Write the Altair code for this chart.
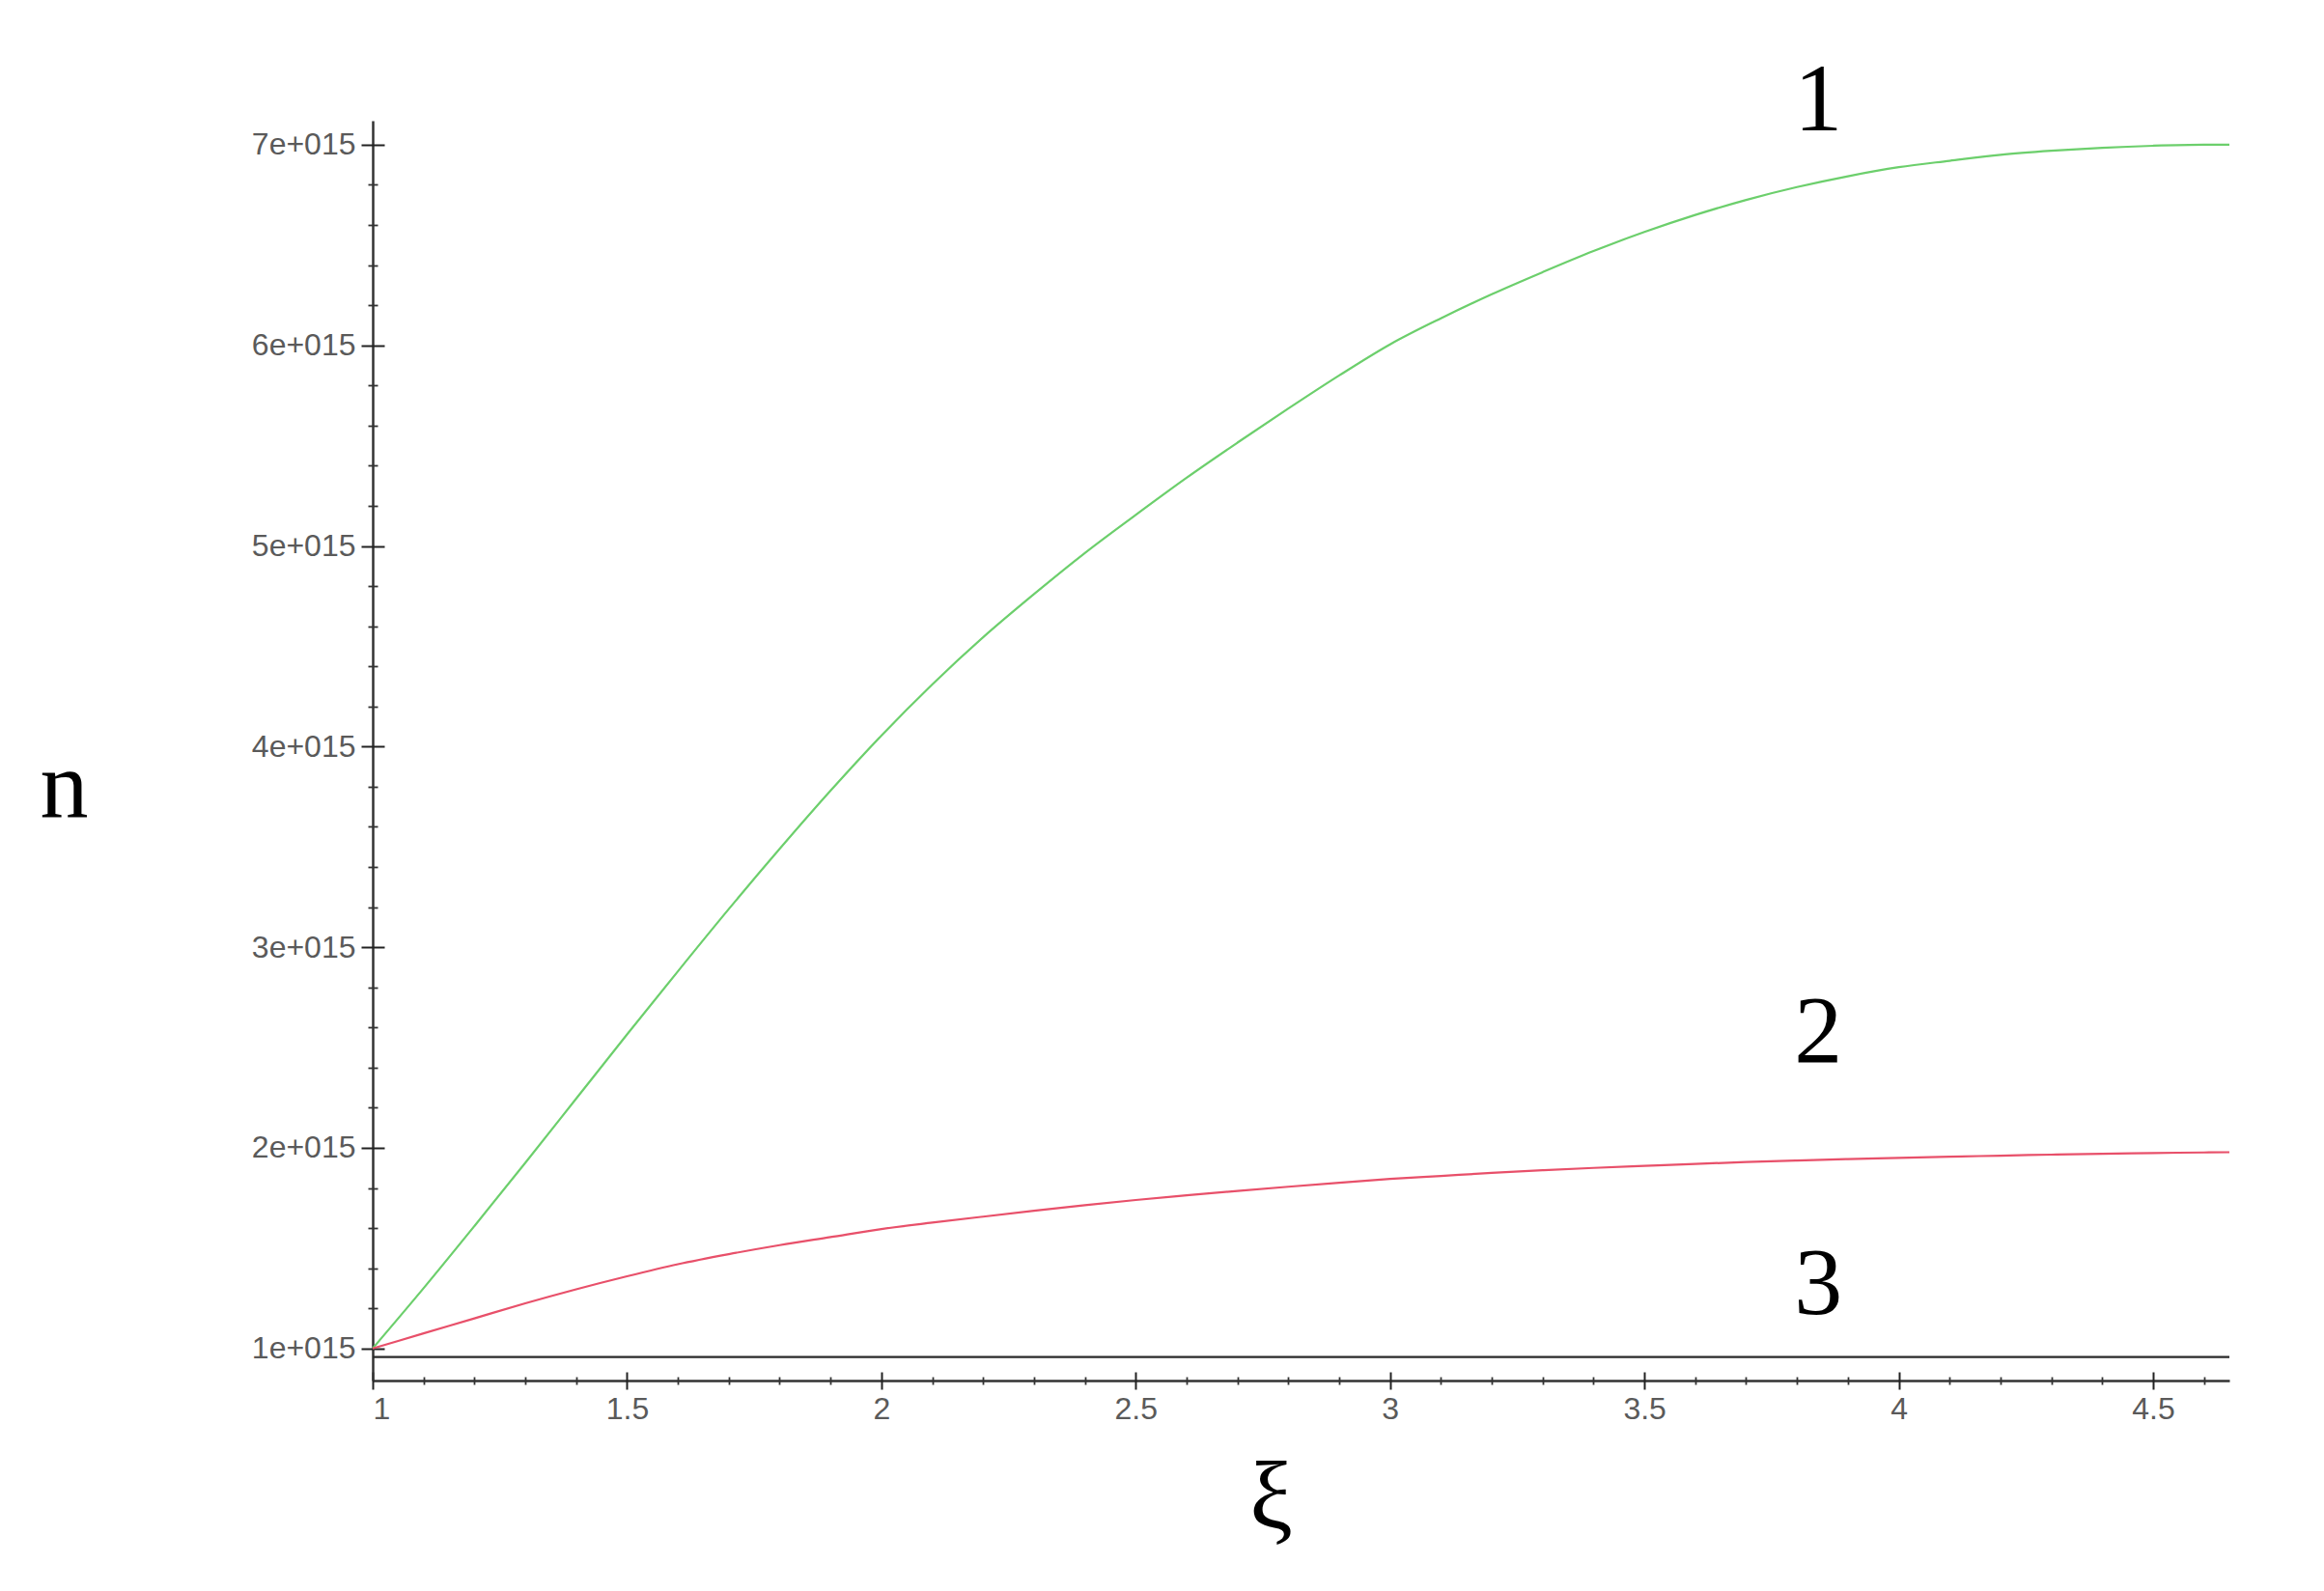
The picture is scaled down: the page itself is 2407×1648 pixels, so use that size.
import altair as alt
import pandas as pd

# ---- data (n in units of 1e15) ----
xi = [1.0, 1.1, 1.2, 1.3, 1.4, 1.5, 1.6, 1.7, 1.8, 1.9, 2.0, 2.1, 2.2, 2.3, 2.4,
      2.5, 2.6, 2.7, 2.8, 2.9, 3.0, 3.1, 3.2, 3.3, 3.4, 3.5, 3.6, 3.7, 3.8, 3.9,
      4.0, 4.1, 4.2, 4.3, 4.4, 4.5, 4.6, 4.65]
n_curve1 = [1.00, 1.30, 1.61, 1.925, 2.245, 2.565, 2.88, 3.19, 3.49, 3.78, 4.055,
            4.31, 4.545, 4.76, 4.965, 5.155, 5.34, 5.515, 5.685, 5.85, 6.005,
            6.135, 6.255, 6.365, 6.47, 6.565, 6.65, 6.725, 6.789, 6.843, 6.888,
            6.92, 6.95, 6.97, 6.985, 6.995, 7.00, 7.00]
n_curve2 = [1.00, 1.075, 1.15, 1.225, 1.295, 1.36, 1.42, 1.47, 1.515, 1.555, 1.595,
            1.627, 1.657, 1.686, 1.714, 1.74, 1.763, 1.785, 1.806, 1.826, 1.845,
            1.86, 1.875, 1.888, 1.90, 1.91, 1.92, 1.929, 1.937, 1.944, 1.95,
            1.956, 1.961, 1.966, 1.97, 1.974, 1.977, 1.978]
n_curve3 = [0.957] * len(xi)

series_names = ["1", "2", "3"]
series_colors = ["#6ccf6c", "#e8506a", "#2a2a2a"]
series_widths = [2.2, 2.2, 2.6]

x_ticks = [1, 1.5, 2, 2.5, 3, 3.5, 4, 4.5]
x_minor = [1.1, 1.2, 1.3, 1.4, 1.6, 1.7, 1.8, 1.9, 2.1, 2.2, 2.3, 2.4, 2.6, 2.7,
           2.8, 2.9, 3.1, 3.2, 3.3, 3.4, 3.6, 3.7, 3.8, 3.9, 4.1, 4.2, 4.3, 4.4, 4.6]
y_ticks = [1, 2, 3, 4, 5, 6, 7]
y_minor = [1.2, 1.4, 1.6, 1.8, 2.2, 2.4, 2.6, 2.8, 3.2, 3.4, 3.6, 3.8, 4.2, 4.4,
           4.6, 4.8, 5.2, 5.4, 5.6, 5.8, 6.2, 6.4, 6.6, 6.8]

label_text = ["1", "2", "3"]
label_x = [3.842, 3.842, 3.842]
label_y = [7.072, 2.429, 1.173]

E = 1e15

rows = []
for name, vals in zip(series_names, [n_curve1, n_curve2, n_curve3]):
    for x, v in zip(xi, vals):
        rows.append({"xi": x, "n": v * E, "series": name})
df = pd.DataFrame(rows)
lab_df = pd.DataFrame({"lx": label_x, "ly": [v * E for v in label_y], "t": label_text})

xs = alt.Scale(domain=[1, 4.65], nice=False, zero=False)
ys = alt.Scale(domain=[0.84 * E, 7.12 * E], nice=False, zero=False)

label_font = "Liberation Sans"
serif = "Liberation Serif"

axisA_x = alt.Axis(orient="bottom", values=x_ticks, format=".1~f", domain=True,
                   domainColor="#333333", domainWidth=2.5, ticks=False, tickSize=0,
                   grid=False, labelFont=label_font, labelFontSize=32,
                   labelColor="#5a5a5a", labelPadding=14,
                   title="ξ", titleFont=serif, titleFontSize=100, titleFontWeight="normal",
                   titleColor="black", titleX=930, titleY=121, titleAlign="center",
                   titleBaseline="middle")
axisA_y = alt.Axis(orient="left", values=[v * E for v in y_ticks], domain=True,
                   domainColor="#333333", domainWidth=2.5, ticks=False, tickSize=0,
                   grid=False, labelFont=label_font, labelFontSize=32,
                   labelColor="#5a5a5a", labelPadding=18,
                   labelExpr="replace(format(datum.value, '.0e'), 'e+', 'e+0')",
                   title="n", titleFont=serif, titleFontSize=100, titleFontWeight="normal",
                   titleColor="black", titleAngle=0, titleX=-320, titleY=720,
                   titleAlign="center", titleBaseline="alphabetic")

axisB_x = alt.Axis(orient="bottom", values=x_ticks, offset=-9, tickSize=18, tickWidth=2,
                   tickColor="#222222", domain=False, labels=False, grid=False, title=None)
axisB_y = alt.Axis(orient="left", values=[v * E for v in y_ticks], offset=-12, tickSize=24,
                   tickWidth=2, tickColor="#222222", domain=False, labels=False,
                   grid=False, title=None)
axisC_x = alt.Axis(orient="bottom", values=x_minor, offset=-4, tickSize=8, tickWidth=1.8,
                   tickColor="#333333", domain=False, labels=False, grid=False, title=None)
axisC_y = alt.Axis(orient="left", values=[v * E for v in y_minor], offset=-5, tickSize=10,
                   tickWidth=1.8, tickColor="#333333", domain=False, labels=False,
                   grid=False, title=None)

lines = alt.Chart(df).mark_line(interpolate="monotone").encode(
    x=alt.X("xi:Q", scale=xs, axis=axisA_x),
    y=alt.Y("n:Q", scale=ys, axis=axisA_y),
    color=alt.Color("series:N", scale=alt.Scale(domain=series_names, range=series_colors),
                    legend=None),
    strokeWidth=alt.StrokeWidth("series:N",
                                scale=alt.Scale(domain=series_names, range=series_widths),
                                legend=None),
)

major = alt.Chart(df).mark_line(opacity=0).encode(
    x=alt.X("xi:Q", scale=xs, axis=axisB_x),
    y=alt.Y("n:Q", scale=ys, axis=axisB_y),
    detail="series:N",
)

minor = alt.Chart(df).mark_line(opacity=0).encode(
    x=alt.X("xi:Q", scale=xs, axis=axisC_x),
    y=alt.Y("n:Q", scale=ys, axis=axisC_y),
    detail="series:N",
)

labels = alt.Chart(lab_df).mark_text(font=serif, fontSize=100, align="center",
                                     baseline="alphabetic", color="black").encode(
    x=alt.X("lx:Q", scale=xs, axis=None),
    y=alt.Y("ly:Q", scale=ys, axis=None),
    text="t:N",
)

chart = alt.layer(lines, major, minor, labels).resolve_axis(
    x="independent", y="independent"
).properties(
    width=1923, height=1305,
    autosize=alt.AutoSizeParams(type="none"),
    padding={"left": 378, "top": 117, "right": 90, "bottom": 200},
    background="white",
).configure_view(stroke="transparent")

chart.save("out.html", embed_options={"renderer": "svg", "actions": False})
